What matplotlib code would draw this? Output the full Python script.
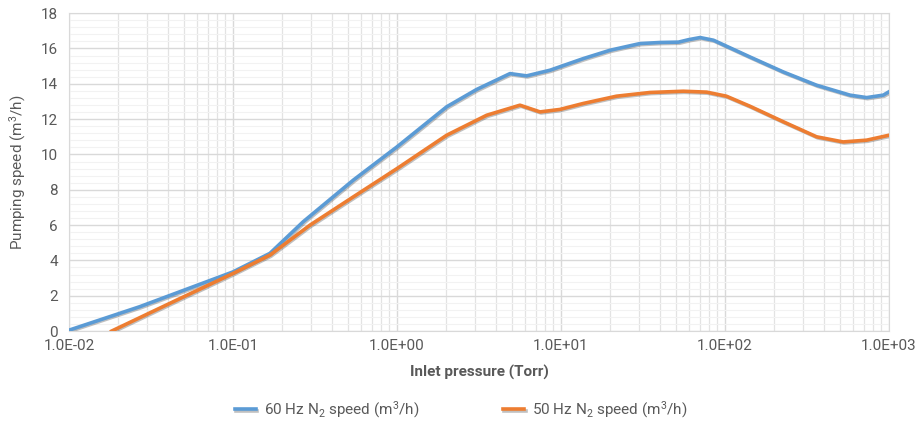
import numpy as np
import matplotlib
matplotlib.use('Agg')
import matplotlib.pyplot as plt
import matplotlib.patheffects as pe
from matplotlib.ticker import LogLocator, MultipleLocator

plt.rcParams['font.family'] = ['Roboto', 'DejaVu Sans']
plt.rcParams['mathtext.fontset'] = 'custom'
plt.rcParams['mathtext.rm'] = 'Roboto'
plt.rcParams['mathtext.it'] = 'Roboto:italic'

# 60 Hz curve
p60 = np.array([0.01, 0.027, 0.1, 0.168, 0.268, 0.542, 1.0, 2.01, 3.06, 4.89, 6.17,
                8.57, 13.7, 19.9, 30.3, 40.2, 52, 60, 70.5, 85, 142, 227, 362, 578, 731, 923, 1000])
s60 = np.array([0.05, 1.38, 3.35, 4.4, 6.19, 8.55, 10.43, 12.7, 13.68, 14.58, 14.45,
                14.77, 15.43, 15.9, 16.28, 16.34, 16.36, 16.5, 16.62, 16.47, 15.52, 14.67, 13.92, 13.36, 13.22, 13.36, 13.55])

# 50 Hz curve
p50 = np.array([0.0182, 0.0432, 0.1, 0.168, 0.295, 0.542, 1.0, 2.01, 3.52, 5.62, 7.45, 9.86,
                13.7, 21.8, 34.9, 55.7, 77.3, 102, 142, 227, 362, 525, 731, 1000])
s50 = np.array([0.0, 1.66, 3.26, 4.3, 6.0, 7.6, 9.2, 11.09, 12.22, 12.79, 12.41, 12.55,
                12.89, 13.3, 13.51, 13.58, 13.53, 13.3, 12.73, 11.85, 11.0, 10.71, 10.81, 11.09])

labels = ['60 Hz N$_2$ speed (m$^3$/h)', '50 Hz N$_2$ speed (m$^3$/h)']
colors = ['#5B9BD5', '#ED7D31']
xticks = [1e-2, 1e-1, 1e0, 1e1, 1e2, 1e3]
xticklabels = ['1.0E-02', '1.0E-01', '1.0E+00', '1.0E+01', '1.0E+02', '1.0E+03']

text_col = '#595959'
fig = plt.figure(figsize=(9.22, 4.25), dpi=100)
ax = fig.add_axes([0.0748, 0.221, 0.8894, 0.748])

shadow = [pe.SimpleLineShadow(offset=(0.8, -0.8), shadow_color='#303030', alpha=0.3), pe.Normal()]
ax.plot(p60, s60, color=colors[0], lw=2.6, label=labels[0], path_effects=shadow, zorder=3,
        solid_joinstyle='round')
ax.plot(p50, s50, color=colors[1], lw=2.6, label=labels[1], path_effects=shadow, zorder=3,
        solid_joinstyle='round')

ax.set_xscale('log')
ax.set_xlim(1e-2, 1e3)
ax.set_ylim(0, 18)
ax.set_xticks(xticks)
ax.set_xticklabels(xticklabels)
ax.xaxis.set_minor_locator(LogLocator(base=10, subs=np.arange(2, 10)))
ax.xaxis.set_minor_formatter(plt.NullFormatter())
ax.yaxis.set_major_locator(MultipleLocator(2))
ax.yaxis.set_minor_locator(MultipleLocator(0.4))

ax.grid(which='major', color='#D9D9D9', lw=1.0)
ax.grid(which='minor', axis='x', color='#E3E3E3', lw=0.9)
ax.grid(which='minor', axis='y', color='#F2F2F2', lw=0.8)
ax.set_axisbelow(True)

for s in ax.spines.values():
    s.set_color('#D9D9D9')
ax.tick_params(which='both', length=0, colors=text_col, labelsize=11)
ax.tick_params(axis='x', pad=6)
ax.tick_params(axis='y', pad=8)

ax.set_xlabel('Inlet pressure (Torr)', fontsize=11, fontweight='bold', color=text_col, labelpad=8)
ax.set_ylabel('Pumping speed (m$^3$/h)', fontsize=11, color=text_col, labelpad=9)

leg = fig.legend(loc='center', bbox_to_anchor=(0.5, 0.035), ncol=2, frameon=False,
                 fontsize=11, handlelength=1.4, handletextpad=0.5, columnspacing=5.5,
                 labelcolor=text_col)

fig.savefig('out.png', dpi=100)
